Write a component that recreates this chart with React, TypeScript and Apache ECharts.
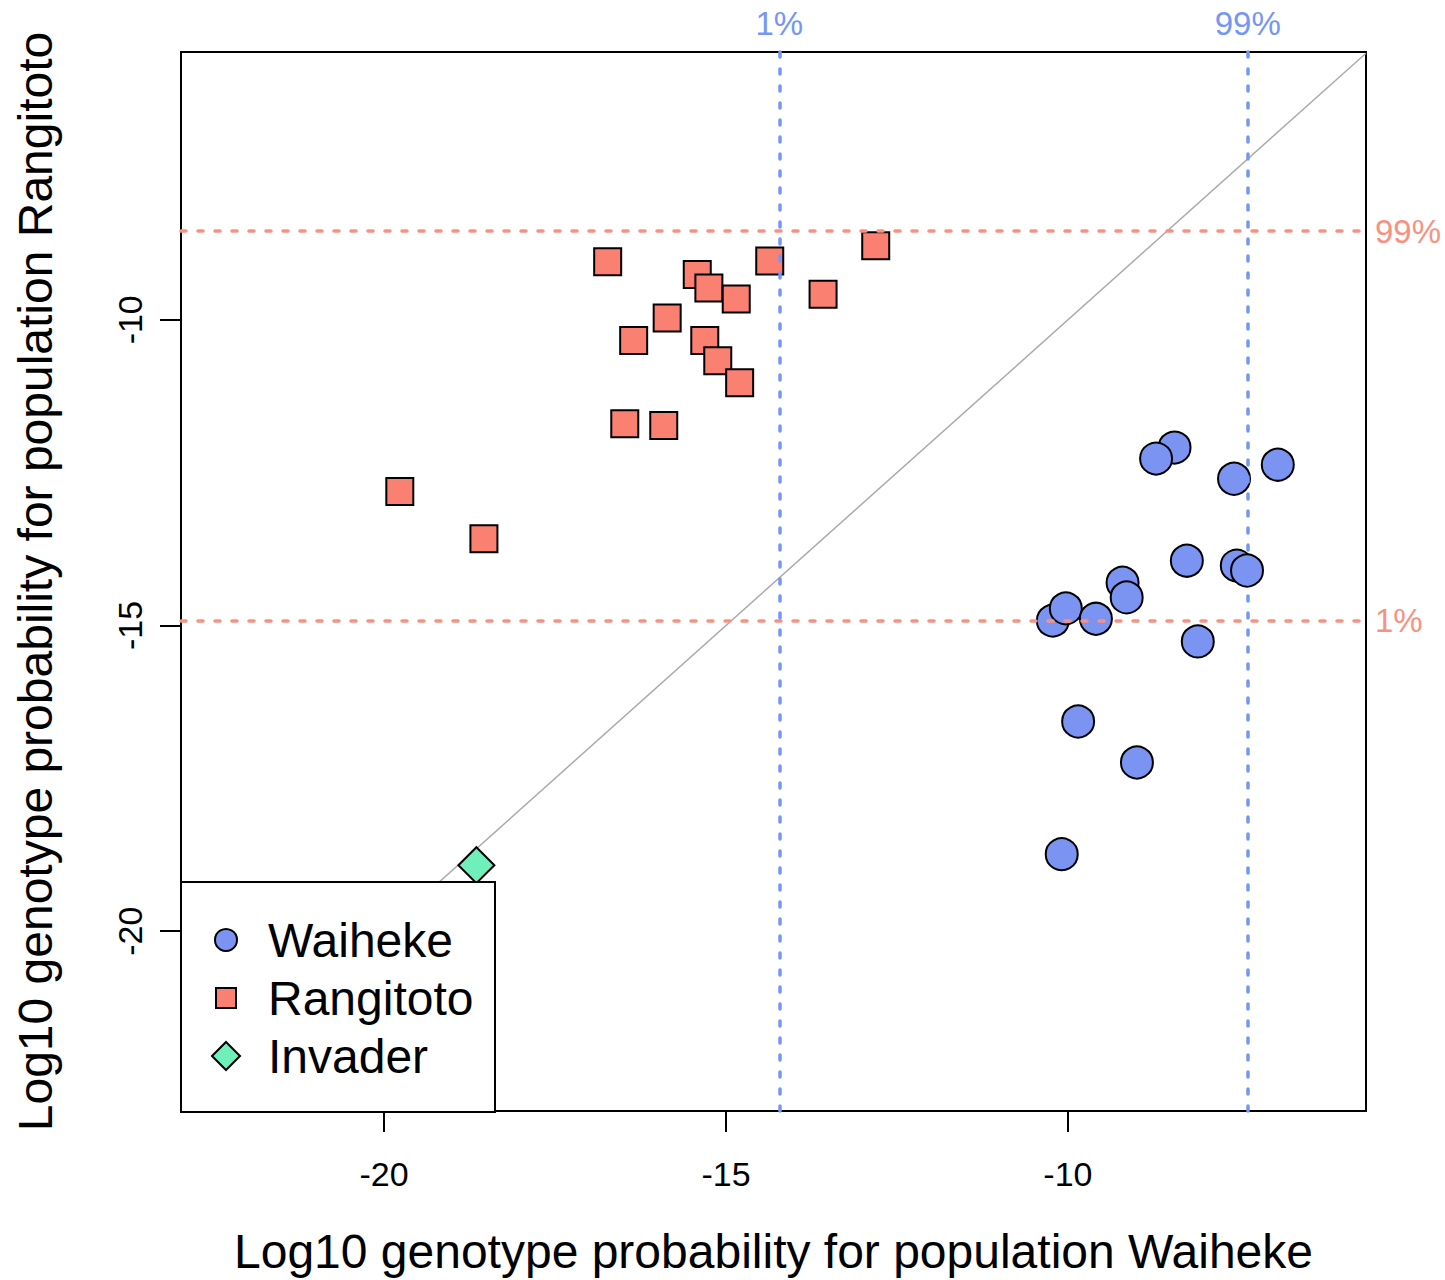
import React, { useEffect, useRef } from "react";
import * as echarts from "echarts";

const FONT = "'Liberation Sans', Arial, Helvetica, sans-serif";

// Axis extents and ticks
const xRange = [-22.97, -5.64];
const yRange = [-22.94, -5.62];
const xTicks = [-20, -15, -10];
const yTicks = [-20, -15, -10];

// Points
const rangitotoX = [-16.73, -15.42, -15.25, -14.85, -14.36, -12.81, -13.58, -15.86, -16.35, -15.31, -15.12, -14.8, -16.48, -15.91, -19.77, -18.54];
const rangitotoY = [-9.05, -9.26, -9.48, -9.66, -9.04, -8.79, -9.58, -9.97, -10.34, -10.34, -10.67, -11.03, -11.7, -11.73, -12.81, -13.58];

const waihekeX = [-8.44, -8.71, -6.93, -7.57, -8.26, -7.53, -7.38, -9.2, -9.14, -10.22, -10.03, -9.59, -8.1, -9.85, -8.99, -10.09];
const waihekeY = [-12.09, -12.27, -12.37, -12.6, -13.94, -14.02, -14.1, -14.3, -14.54, -14.92, -14.72, -14.89, -15.26, -16.57, -17.24, -18.74];

const invaderX = [-18.65];
const invaderY = [-18.92];

// Thresholds
const waihekeQuantiles = [-14.225, -7.37];
const waihekeQuantileLabels = ["1%", "99%"];
const rangitotoQuantiles = [-14.92, -8.55];
const rangitotoQuantileLabels = ["1%", "99%"];

const legendNames = ["Waiheke", "Rangitoto", "Invader"];

const BLUE = "#7b94f2";
const SALMON = "#fa8072";
const GREEN = "#6ff0ba";
const BLUE_LINE = "#7497f4";
const RED_LINE = "#f79282";

const zip = (xs: number[], ys: number[]) => xs.map((x, i) => [x, ys[i]]);

export default function App() {
  const ref = useRef<HTMLDivElement>(null);
  useEffect(() => {
    document.body.style.margin = "0";
    const chart = echarts.init(ref.current!, null, { renderer: "svg" });
    const dashed = { type: [5, 12], width: 3.5, cap: "round" };
    const option: any = {
      animation: false,
      backgroundColor: "#fff",
      textStyle: { fontFamily: FONT },
      grid: {
        left: 181,
        top: 52,
        width: 1185,
        height: 1060,
        show: true,
        borderColor: "#000",
        borderWidth: 2,
        backgroundColor: "transparent",
      },
      xAxis: {
        type: "value",
        min: xRange[0],
        max: xRange[1],
        name: "Log10 genotype probability for population Waiheke",
        nameLocation: "middle",
        nameGap: 116,
        nameTextStyle: { fontSize: 48, color: "#000", fontFamily: FONT },
        axisLine: { show: false },
        splitLine: { show: false },
        axisTick: { show: true, length: 21, lineStyle: { color: "#000", width: 2 }, customValues: xTicks },
        axisLabel: { customValues: xTicks, fontSize: 34, color: "#000", margin: 46, fontFamily: FONT },
      },
      yAxis: {
        type: "value",
        min: yRange[0],
        max: yRange[1],
        name: "Log10 genotype probability for population Rangitoto",
        nameLocation: "middle",
        nameGap: 122,
        nameTextStyle: { fontSize: 48, color: "#000", fontFamily: FONT },
        axisLine: { show: false },
        splitLine: { show: false },
        axisTick: { show: true, length: 21, lineStyle: { color: "#000", width: 2 }, customValues: yTicks },
        axisLabel: { customValues: yTicks, fontSize: 34, color: "#000", margin: 34, rotate: 90, fontFamily: FONT },
      },
      series: [
        {
          type: "line",
          name: "identity",
          data: [
            [xRange[0], xRange[0]],
            [xRange[1], xRange[1]],
          ],
          symbol: "none",
          silent: true,
          lineStyle: { color: "#aaaaaa", width: 1.5 },
          z: 1,
        },
        {
          type: "scatter",
          name: legendNames[1],
          data: zip(rangitotoX, rangitotoY),
          symbol: "rect",
          symbolSize: 27,
          itemStyle: { color: SALMON, borderColor: "#000", borderWidth: 2, opacity: 1 },
          z: 3,
          markLine: {
            silent: true,
            symbol: ["none", "none"],
            lineStyle: { color: RED_LINE, ...dashed },
            label: { show: true, position: "end", color: RED_LINE, fontSize: 33, distance: 9, fontFamily: FONT },
            data: rangitotoQuantiles.map((v, i) => ({
              yAxis: v,
              label: { formatter: rangitotoQuantileLabels[i] },
            })),
          },
        },
        {
          type: "scatter",
          name: legendNames[0],
          data: zip(waihekeX, waihekeY),
          symbol: "circle",
          symbolSize: 32,
          itemStyle: { color: BLUE, borderColor: "#000", borderWidth: 2, opacity: 1 },
          z: 3,
          markLine: {
            silent: true,
            symbol: ["none", "none"],
            lineStyle: { color: BLUE_LINE, ...dashed },
            label: { show: true, position: "end", color: BLUE_LINE, fontSize: 33, distance: 12, fontFamily: FONT },
            data: waihekeQuantiles.map((v, i) => ({
              xAxis: v,
              label: { formatter: waihekeQuantileLabels[i] },
            })),
          },
        },
        {
          type: "scatter",
          name: legendNames[2],
          data: zip(invaderX, invaderY),
          symbol: "diamond",
          symbolSize: 36,
          itemStyle: { color: GREEN, borderColor: "#000", borderWidth: 2, opacity: 1 },
          z: 3,
        },
      ],
      graphic: [
        {
          type: "rect",
          z: 100,
          shape: { x: 181, y: 882, width: 314, height: 230 },
          style: { fill: "#fff", stroke: "#000", lineWidth: 2 },
        },
        {
          type: "circle",
          z: 101,
          shape: { cx: 226, cy: 940, r: 11 },
          style: { fill: BLUE, stroke: "#000", lineWidth: 2 },
        },
        {
          type: "rect",
          z: 101,
          shape: { x: 216, y: 988, width: 20, height: 20 },
          style: { fill: SALMON, stroke: "#000", lineWidth: 2 },
        },
        {
          type: "polygon",
          z: 101,
          shape: { points: [[226, 1042], [240, 1056], [226, 1070], [212, 1056]] },
          style: { fill: GREEN, stroke: "#000", lineWidth: 2 },
        },
        ...legendNames.map((n, i) => ({
          type: "text",
          z: 101,
          x: 268,
          y: 940 + i * 58,
          style: { text: n, fontSize: 48, fill: "#000", verticalAlign: "middle", fontFamily: FONT },
        })),
      ],
    };
    chart.setOption(option);
    return () => chart.dispose();
  }, []);
  return <div ref={ref} style={{ width: 1445, height: 1280 }} />;
}
